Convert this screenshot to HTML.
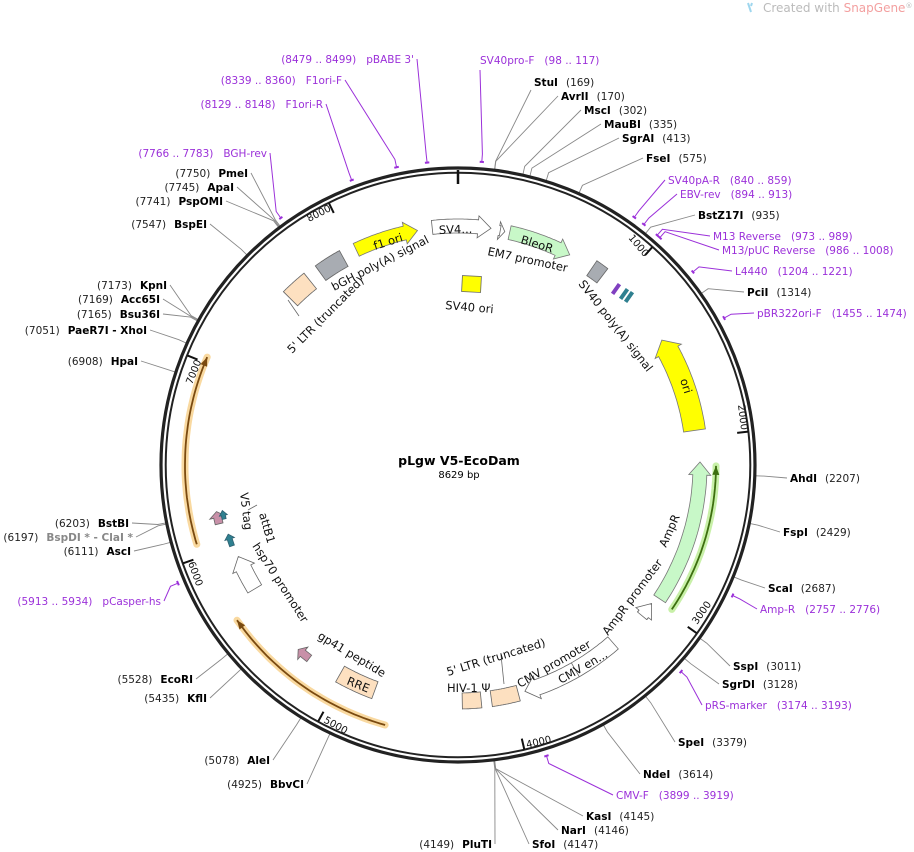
<!DOCTYPE html>
<html><head><meta charset="utf-8"><style>
body{margin:0;background:#fff;}
svg{display:block;font-family:"DejaVu Sans","Liberation Sans",sans-serif;}
.b{font-weight:bold;fill:#000;font-size:10.5px}
.n{fill:#222;font-size:10.5px}
.p{fill:#9b30d9;font-size:10.5px}
.g{fill:#888;font-size:10.5px;font-weight:bold}
.f{font-size:11.5px;fill:#111}
.t{font-size:10px;fill:#111}
</style></head><body>
<svg id="s" width="914" height="852" viewBox="0 0 914 852">
<g id="under"></g>
<circle cx="458" cy="465" r="297" fill="none" stroke="#222" stroke-width="3.2"/>
<circle cx="458" cy="465" r="292.3" fill="none" stroke="#222" stroke-width="2"/>
<line x1="458" y1="170" x2="458" y2="184" stroke="#111" stroke-width="2.5"/>
<g id="over"></g>

<text x="763" y="12" font-size="12" fill="#bbb">Created with <tspan fill="#f3a0a0">SnapGene</tspan><tspan font-size="7" dy="-4">®</tspan></text>
<path d="M748 3 l3 9 M752 3 l-1 3" stroke="#9ed6ee" stroke-width="2" fill="none"/>

<text x="459" y="465" text-anchor="middle" font-weight="bold" font-size="12.5">pLgw V5-EcoDam</text>
<text x="459" y="478" text-anchor="middle" font-size="10">8629 bp</text>

<text class="t" transform="translate(628,238) rotate(50)">1000</text>
<text class="t" transform="translate(738,405) rotate(83)">2000</text>
<text class="t" transform="translate(697,625) rotate(-55)">3000</text>
<text class="t" transform="translate(527,748) rotate(-13)">4000</text>
<text class="t" transform="translate(323,722) rotate(29)">5000</text>
<text class="t" transform="translate(188,563) rotate(70)">6000</text>
<text class="t" transform="translate(192,385) rotate(-68)">7000</text>
<text class="t" transform="translate(309,222) rotate(-27)">8000</text>

<text class="f" transform="translate(375,250) rotate(-18)">f1 ori</text>
<text class="f" transform="translate(439,234) rotate(-2)">SV4...</text>
<text class="f" transform="translate(520,243) rotate(17)">BleoR</text>
<text class="f" transform="translate(487,255) rotate(12)">EM7 promoter</text>
<text class="f" transform="translate(334,291) rotate(-27)">bGH poly(A) signal</text>
<text class="f" transform="translate(292,354) rotate(-45)">5' LTR (truncated)</text>
<text class="f" transform="translate(445,309) rotate(5)">SV40 ori</text>
<text class="f" transform="translate(578,284) rotate(52)">SV40 poly(A) signal</text>
<text class="f" transform="translate(680,380) rotate(72)">ori</text>
<text class="f" transform="translate(666,548) rotate(-66)">AmpR</text>
<text class="f" transform="translate(608,636) rotate(-53)">AmpR promoter</text>
<text class="f" transform="translate(520,688) rotate(-30)">CMV promoter</text>
<text class="f" transform="translate(561,684) rotate(-30)">CMV en...</text>
<text class="f" transform="translate(448,676) rotate(-17)">5' LTR (truncated)</text>
<text class="f" transform="translate(447,692)">HIV-1 Ψ</text>
<text class="f" transform="translate(346,684) rotate(22)">RRE</text>
<text class="f" transform="translate(317,638) rotate(31)">gp41 peptide</text>
<text class="f" transform="translate(252,546) rotate(57)">hsp70 promoter</text>
<text class="f" transform="translate(259,514) rotate(74)">attB1</text>
<text class="f" transform="translate(240,493) rotate(83)">V5 tag</text>

<text x="534" y="86"><tspan class="b">StuI</tspan><tspan class="n" dx="8">(169)</tspan></text>
<text x="561" y="100"><tspan class="b">AvrII</tspan><tspan class="n" dx="8">(170)</tspan></text>
<text x="584" y="114"><tspan class="b">MscI</tspan><tspan class="n" dx="8">(302)</tspan></text>
<text x="604" y="128"><tspan class="b">MauBI</tspan><tspan class="n" dx="8">(335)</tspan></text>
<text x="622" y="142"><tspan class="b">SgrAI</tspan><tspan class="n" dx="8">(413)</tspan></text>
<text x="646" y="162"><tspan class="b">FseI</tspan><tspan class="n" dx="8">(575)</tspan></text>
<text x="668" y="184" class="p">SV40pA-R<tspan dx="10">(840 .. 859)</tspan></text>
<text x="680" y="198" class="p">EBV-rev<tspan dx="10">(894 .. 913)</tspan></text>
<text x="698" y="219"><tspan class="b">BstZ17I</tspan><tspan class="n" dx="8">(935)</tspan></text>
<text x="713" y="240" class="p">M13 Reverse<tspan dx="10">(973 .. 989)</tspan></text>
<text x="722" y="254" class="p">M13/pUC Reverse<tspan dx="10">(986 .. 1008)</tspan></text>
<text x="735" y="275" class="p">L4440<tspan dx="10">(1204 .. 1221)</tspan></text>
<text x="747" y="296"><tspan class="b">PciI</tspan><tspan class="n" dx="8">(1314)</tspan></text>
<text x="757" y="317" class="p">pBR322ori-F<tspan dx="10">(1455 .. 1474)</tspan></text>
<text x="790" y="482"><tspan class="b">AhdI</tspan><tspan class="n" dx="8">(2207)</tspan></text>
<text x="783" y="536"><tspan class="b">FspI</tspan><tspan class="n" dx="8">(2429)</tspan></text>
<text x="768" y="592"><tspan class="b">ScaI</tspan><tspan class="n" dx="8">(2687)</tspan></text>
<text x="760" y="613" class="p">Amp-R<tspan dx="10">(2757 .. 2776)</tspan></text>
<text x="733" y="670"><tspan class="b">SspI</tspan><tspan class="n" dx="8">(3011)</tspan></text>
<text x="722" y="688"><tspan class="b">SgrDI</tspan><tspan class="n" dx="8">(3128)</tspan></text>
<text x="705" y="709" class="p">pRS-marker<tspan dx="10">(3174 .. 3193)</tspan></text>
<text x="678" y="746"><tspan class="b">SpeI</tspan><tspan class="n" dx="8">(3379)</tspan></text>
<text x="643" y="778"><tspan class="b">NdeI</tspan><tspan class="n" dx="8">(3614)</tspan></text>
<text x="616" y="799" class="p">CMV-F<tspan dx="10">(3899 .. 3919)</tspan></text>
<text x="586" y="820"><tspan class="b">KasI</tspan><tspan class="n" dx="8">(4145)</tspan></text>
<text x="561" y="834"><tspan class="b">NarI</tspan><tspan class="n" dx="8">(4146)</tspan></text>
<text x="532" y="848"><tspan class="b">SfoI</tspan><tspan class="n" dx="8">(4147)</tspan></text>
<text x="492" y="848" text-anchor="end"><tspan class="n">(4149)</tspan><tspan class="b" dx="8">PluTI</tspan></text>
<text x="304" y="788" text-anchor="end"><tspan class="n">(4925)</tspan><tspan class="b" dx="8">BbvCI</tspan></text>
<text x="270" y="764" text-anchor="end"><tspan class="n">(5078)</tspan><tspan class="b" dx="8">AleI</tspan></text>
<text x="207" y="702" text-anchor="end"><tspan class="n">(5435)</tspan><tspan class="b" dx="8">KflI</tspan></text>
<text x="193" y="683" text-anchor="end"><tspan class="n">(5528)</tspan><tspan class="b" dx="8">EcoRI</tspan></text>
<text x="161" y="605" text-anchor="end" class="p">(5913 .. 5934)<tspan dx="10">pCasper-hs</tspan></text>
<text x="131" y="555" text-anchor="end"><tspan class="n">(6111)</tspan><tspan class="b" dx="8">AscI</tspan></text>
<text x="133" y="541" text-anchor="end"><tspan class="n">(6197)</tspan><tspan class="g" dx="8">BspDI * - ClaI *</tspan></text>
<text x="129" y="527" text-anchor="end"><tspan class="n">(6203)</tspan><tspan class="b" dx="8">BstBI</tspan></text>
<text x="138" y="365" text-anchor="end"><tspan class="n">(6908)</tspan><tspan class="b" dx="8">HpaI</tspan></text>
<text x="147" y="334" text-anchor="end"><tspan class="n">(7051)</tspan><tspan class="b" dx="8">PaeR7I - XhoI</tspan></text>
<text x="160" y="318" text-anchor="end"><tspan class="n">(7165)</tspan><tspan class="b" dx="8">Bsu36I</tspan></text>
<text x="160" y="303" text-anchor="end"><tspan class="n">(7169)</tspan><tspan class="b" dx="8">Acc65I</tspan></text>
<text x="167" y="289" text-anchor="end"><tspan class="n">(7173)</tspan><tspan class="b" dx="8">KpnI</tspan></text>
<text x="207" y="228" text-anchor="end"><tspan class="n">(7547)</tspan><tspan class="b" dx="8">BspEI</tspan></text>
<text x="223" y="205" text-anchor="end"><tspan class="n">(7741)</tspan><tspan class="b" dx="8">PspOMI</tspan></text>
<text x="234" y="191" text-anchor="end"><tspan class="n">(7745)</tspan><tspan class="b" dx="8">ApaI</tspan></text>
<text x="248" y="177" text-anchor="end"><tspan class="n">(7750)</tspan><tspan class="b" dx="8">PmeI</tspan></text>
<text x="267" y="157" text-anchor="end" class="p">(7766 .. 7783)<tspan dx="10">BGH-rev</tspan></text>
<text x="323" y="108" text-anchor="end" class="p">(8129 .. 8148)<tspan dx="10">F1ori-R</tspan></text>
<text x="342" y="84" text-anchor="end" class="p">(8339 .. 8360)<tspan dx="10">F1ori-F</tspan></text>
<text x="414" y="63" text-anchor="end" class="p">(8479 .. 8499)<tspan dx="10">pBABE 3'</tspan></text>
<text x="480" y="64" class="p">SV40pro-F<tspan dx="10">(98 .. 117)</tspan></text>
</svg>
<script>
var cx=458,cy=465,N=8629,NS="http://www.w3.org/2000/svg";
var under=document.getElementById('under'),over=document.getElementById('over');
function pt(b,r){var t=b/N*2*Math.PI;return [cx+r*Math.sin(t),cy-r*Math.cos(t)];}
function el(p,tag,a){var e=document.createElementNS(NS,tag);for(var k in a)e.setAttribute(k,a[k]);p.appendChild(e);return e;}
function arcPts(b1,b2,r,n){var o=[];for(var i=0;i<=n;i++)o.push(pt(b1+(b2-b1)*i/n,r));return o;}
function ps(a){return a.map(function(p){return p[0].toFixed(1)+','+p[1].toFixed(1)}).join(' ');}
function band(b1,b2,r,w,head,fill,stroke,hl){
  hl=hl||13;
  var hb=head?hl/(2*Math.PI*r)*N*Math.sign(b2-b1):0;
  var e=b2-hb;
  var ex=Math.min(4,w/2);
  var pts=arcPts(b1,e,r+w/2,30);
  if(head){pts.push(pt(e,r+w/2+ex));pts.push(pt(b2,r));pts.push(pt(e,r-w/2-ex));}
  pts=pts.concat(arcPts(e,b1,r-w/2,30));
  el(over,'polygon',{points:ps(pts),fill:fill,stroke:stroke||'#666','stroke-width':0.8});
}
function line(b,r,x,y,c){var p=pt(b,r);el(under,'polyline',{points:ps([p,pt(b,r+8),[x,y]]),fill:'none',stroke:c,'stroke-width':0.9});}
var enz=[[169,531,90],[170,558,96],[302,581,110],[335,601,124],[413,619,138],[575,643,158],[935,695,215],[1314,744,292],
[2207,787,478],[2429,780,532],[2687,765,588],[3011,730,666],[3128,719,684],[3379,675,742],[3614,640,774],
[4145,583,816],[4146,558,830],[4147,529,844],[4149,495,844],[4925,307,784],[5078,273,760],[5435,210,698],[5528,196,679],
[6111,134,551],[6197,136,537],[6203,132,523],[6908,141,361],[7051,150,330],[7165,163,314],[7169,163,299],[7173,170,285],
[7547,210,224],[7741,226,201],[7745,237,187],[7750,251,173]];
enz.forEach(function(e){line(e[0],298,e[1],e[2],'#888');});
var pr=[[98,117,480,70],[840,859,665,180],[894,913,677,194],[973,989,710,236],[986,1008,719,250],[1204,1221,732,271],[1455,1474,754,313],
[2757,2776,757,609],[3174,3193,702,705],[3899,3919,613,795],[5913,5934,164,601],[7766,7783,270,153],[8129,8148,326,104],[8339,8360,345,80],[8479,8499,417,59]];
pr.forEach(function(e){var m=(e[0]+e[1])/2;el(over,'polyline',{points:ps(arcPts(e[0],e[1],304,4)),fill:'none',stroke:'#9b30d9','stroke-width':2});
 var p=pt(m,304);el(under,'polyline',{points:ps([p,pt(m,312),[e[2],e[3]]]),fill:'none',stroke:'#9b30d9','stroke-width':1});});
for(var k=1;k<=8;k++){var a=pt(k*1000,292),b=pt(k*1000,281);el(over,'line',{x1:a[0],y1:a[1],x2:b[0],y2:b[1],stroke:'#111','stroke-width':2});}
function glow(b1,b2,r,gc,lc){var pts=arcPts(b1,b2,r,40);el(over,'polyline',{points:ps(pts),fill:'none',stroke:gc,'stroke-width':7,'stroke-linecap':'round'});
 el(over,'polyline',{points:ps(pts),fill:'none',stroke:lc,'stroke-width':1.8});
 var d=Math.sign(b2-b1)*9/(2*Math.PI*r)*N;el(over,'polygon',{points:ps([pt(b2-d,r+3.5),pt(b2,r),pt(b2-d,r-3.5)]),fill:lc});}
glow(6067,7030,273,'#f9d9a0','#7a4a10');
glow(4690,5631,270,'#f9d9a0','#7a4a10');
glow(2973,2162,258,'#c8f0a8','#3d6e10');
band(2962,2140,242,14,1,'#c8f8c8','#777');
band(3100,3010,238,12,1,'#fff','#666');
band(1958,1402,239,22,1,'#ffff00','#777');
band(300,671,238,14,1,'#c8f8c8','#777');
band(245,272,238,10,1,'#fff','#666',6);
band(8480,8629+190,239,14,1,'#fff','#666');
band(8022,8394,238,14,1,'#ffff00','#777');
band(7775,7935,236,18,0,'#a8acb2','#666');
band(7545,7700,236,20,0,'#fde0c0','#666');
band(820,895,238,18,0,'#a8acb2','#666');
band(3330,3920,236,16,1,'#fff','#666');
band(3960,4120,236,16,0,'#fde0c0','#666');
band(4180,4290,236,16,0,'#fde0c0','#666');
band(5720,5930,238,16,1,'#fff','#666');
band(4800,5020,240,18,0,'#fde0c0','#666');
band(5215,5295,244,8,1,'#c890a8','#666',6);
band(6140,6210,246,8,1,'#c890a8','#666',6);
band(6160,6210,240,4,1,'#2f8090','#2f6070',5);
band(6000,6070,240,5,1,'#2f8090','#2f6070',5);
el(over,'line',{x1:pt(3600,228)[0],y1:pt(3600,228)[1],x2:pt(3600,244)[0],y2:pt(3600,244)[1],stroke:'#666','stroke-width':0.8});
el(over,'rect',{x:614,y:283,width:4,height:12,fill:'#8040c0',transform:'rotate(35 616 289)'});
el(over,'rect',{x:622,y:288,width:4,height:12,fill:'#2f8090',transform:'rotate(35 624 294)'});
el(over,'rect',{x:627,y:291,width:4,height:12,fill:'#2f8090',transform:'rotate(35 629 297)'});
el(over,'rect',{x:462,y:276,width:19,height:16,fill:'#ffff00',stroke:'#666','stroke-width':0.8,transform:'rotate(3 471 284)'});
el(over,'line',{x1:288,y1:300,x2:299,y2:316,stroke:'#666','stroke-width':0.8});
el(over,'line',{x1:257,y1:505,x2:248,y2:510,stroke:'#666','stroke-width':0.8});
el(over,'line',{x1:501,y1:655,x2:504,y2:684,stroke:'#666','stroke-width':0.8});
</script>
</body></html>
